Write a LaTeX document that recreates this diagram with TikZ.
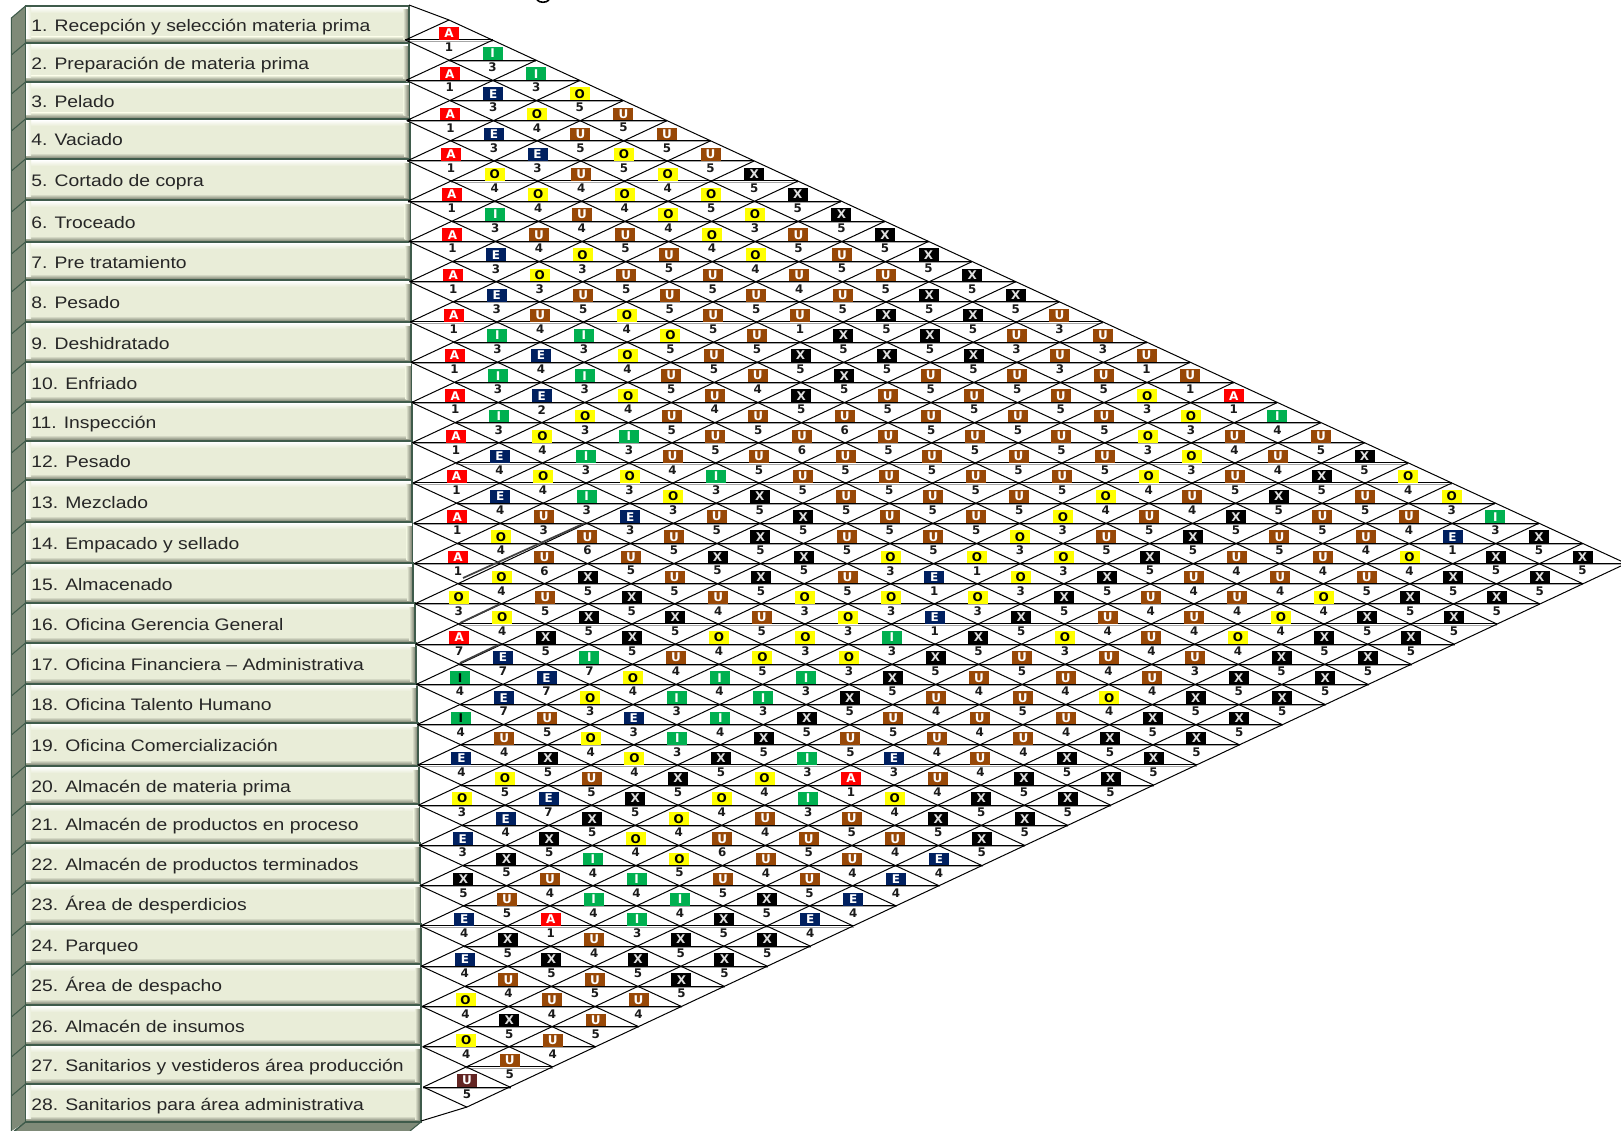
\documentclass[tikz,border=0pt]{standalone}
\usepackage{fontspec}
\setmainfont{Liberation Sans}
\newfontfamily\barfont[FakeStretch=1.16]{Liberation Sans}
\newfontfamily\cellfont{DejaVu Sans}
\definecolor{barfill}{HTML}{E9EDD8}
\definecolor{baredge}{HTML}{3F5B4B}
\definecolor{sideface}{HTML}{7F8A78}
\definecolor{barshadow}{HTML}{747969}
\definecolor{colA}{HTML}{FF0000}
\definecolor{colE}{HTML}{002060}
\definecolor{colI}{HTML}{00B050}
\definecolor{colO}{HTML}{FFFF00}
\definecolor{colU}{HTML}{984807}
\definecolor{colM}{HTML}{632523}
\tikzset{
  gridline/.style={black,line width=0.75pt},
  gridshade/.style={black!35,line width=0.7pt},
  heavyline/.style={black!75,line width=1.3pt},
  sideline/.style={baredge,line width=0.8pt},
  barlabel/.style={anchor=base west,inner sep=0pt,text=black!85,
    font=\barfont\fontsize{12.5}{14}\selectfont},
  cellbox/.style={rectangle,inner sep=0pt,minimum width=15pt,minimum height=9.6pt,
    font=\cellfont\bfseries\fontsize{9}{9}\selectfont,text=white},
  cellA/.style={fill=colA},
  cellE/.style={fill=colE},
  cellI/.style={fill=colI},
  celli/.style={fill=colI,text=black},
  cellO/.style={fill=colO,text=black},
  cellU/.style={fill=colU},
  cellu/.style={fill=colM},
  cellX/.style={fill=black,text=black!12},
  numlabel/.style={inner sep=0pt,text=black!90,
    font=\cellfont\bfseries\fontsize{8.9}{9}\selectfont},
}
\newcommand\drawcell[2]{%
  \pgfmathtruncatemacro\curm{(\curk-\curn)/2}%
  \pgfmathsetmacro\cx{449+43.6*\curn+0.69*\curm}%
  \pgfmathsetmacro\cy{40+20.135*\curk}%
  \node[cellbox,cell#1] (c-\curk-\curn) at (\cx,\cy-6.6) {\MakeUppercase{#1}};%
  \node[numlabel] (v-\curk-\curn) at (\cx,\cy+7.2) {#2};%
  \pgfmathtruncatemacro\curn{\curn+2}%
}
\def\cellloop#1#2{\ifx#1\relax\else\drawcell{#1}{#2}\expandafter\cellloop\fi}
\newcommand\cellrow[2]{\def\curk{#1}\pgfmathtruncatemacro\curn{mod(#1,2)}\cellloop#2\relax\relax}
\begin{document}
\begin{tikzpicture}[x=0.75pt,y=-0.75pt]
\useasboundingbox (0,0) rectangle (1621,1131);
\clip (0,0) rectangle (1621,1131);
% side and bottom faces of the bar stack
\fill[sideface] (25.5,6) -- (11.4,18) -- (11.4,1131) -- (25.5,1122) -- cycle;
\fill[sideface] (25.5,1122) -- (14,1131) -- (410,1131) -- (421,1122) -- cycle;
\draw[sideline] (25.5,6) -- (11.4,18) -- (11.4,1131);
\draw[sideline] (25.5,1122) -- (14,1131);
\draw[sideline] (421,1122) -- (410,1131);
% bars
\gdef\prevt{6}
\foreach \i/\b/\r/\txt in {
 1/43/409/{1. Recepción y selección materia prima},
 2/82/409/{2. Preparación de materia prima},
 3/119/409.5/{3. Pelado},
 4/159/410/{4. Vaciado},
 5/200/410/{5. Cortado de copra},
 6/242/410.5/{6. Troceado},
 7/280/411/{7. Pre tratamiento},
 8/322/411/{8. Pesado},
 9/362/411/{9. Deshidratado},
 10/402/411.5/{10. Enfriado},
 11/441/412/{11. Inspección},
 12/480/412/{12. Pesado},
 13/522/412/{13. Mezclado},
 14/563/412.5/{14. Empacado y sellado},
 15/603/413/{15. Almacenado},
 16/643/415/{16. Oficina Gerencia General},
 17/684/416/{17. Oficina Financiera – Administrativa},
 18/723/417/{18. Oficina Talento Humano},
 19/766/418/{19. Oficina Comercialización},
 20/804/419/{20. Almacén de materia prima},
 21/843/419.5/{21. Almacén de productos en proceso},
 22/883/420/{22. Almacén de productos terminados},
 23/924/420.5/{23. Área de desperdicios},
 24/964/421/{24. Parqueo},
 25/1005/421/{25. Área de despacho},
 26/1045/421/{26. Almacén de insumos},
 27/1084/421/{27. Sanitarios y vestideros área producción},
 28/1122/421/{28. Sanitarios para área administrativa}}{
  \pgfmathsetmacro\t{\prevt}
  \fill[barfill] (25.5,\t) rectangle (\r,\b);
  \shade[top color=white,bottom color=barfill] (26,\t+1) rectangle (\r-1,\t+7);
  \shade[top color=barfill,bottom color=barshadow] (26,\b-6) rectangle (\r-1,\b-0.5);
  \shade[left color=white,right color=barfill] (26,\t+1) rectangle (31,\b-4);
  \shade[left color=barfill,right color=barshadow] (\r-6,\t+4) rectangle (\r-0.5,\b-3);
  \draw[sideline] (25.5,\t) rectangle (\r,\b);
  \draw[sideline] (25.5,\b) -- (11.4,\b+12);
  \node[barlabel] (bar-\i) at (31,{(\t+\b)/2+7}) {\txt};
  \xdef\prevt{\b}
}
% cropped mark at the upper edge
\coordinate (marka) at (537,0);
\coordinate (markb) at (549,0);
\draw[black,line width=1.2pt] (marka) .. controls (540,3) and (546,3) .. (markb);
% lattice points
\foreach \m in {0,...,26}{
  \coordinate (L-\m) at (405.4+0.69*\m,40+40.27*\m);
  \coordinate (T-\m) at (449+43.6*\m,20+20.13*\m);
  \coordinate (E-\m) at (405.4+0.69*\m+43.6*27-43.6*\m,40+40.27*\m+20.135*27-20.135*\m);
}
\coordinate (stub-top) at (409,5);
\coordinate (stub-bot) at (421,1121);
\coordinate (bottom-first) at (467,1107);
\coordinate (tip) at (1626.2,563.5);
% horizontals
\foreach \k in {0,...,52}{
  \pgfmathtruncatemacro\hm{floor(\k/2)}
  \pgfmathsetmacro\hleft{mod(\k,2)==0?405.4+0.69*\hm:449+0.69*\hm}
  \pgfmathsetmacro\hright{\k<=26?449+43.6*(\k+1):449+43.6*(53-\k)+0.69*(\k-26)}
  \pgfmathsetmacro\hy{40+20.135*\k}
  \coordinate (HL-\k) at (\hleft,\hy);
  \coordinate (HR-\k) at (\hright,\hy);
  \draw[gridshade] ([yshift=-0.85pt]HL-\k) -- ([yshift=-0.85pt]HR-\k);
  \draw[gridline] (HL-\k) -- (HR-\k);
}
% diagonals
\foreach \m in {0,...,26}{
  \draw[gridline] (L-\m) -- (T-\m);
  \draw[gridline] (L-\m) -- (E-\m);
}
\draw[gridline] (stub-top) -- (T-0) -- (tip) -- (bottom-first) -- (stub-bot);
% heavier strokes
\coordinate (ha) at (463,578); \coordinate (hb) at (585,523);
\coordinate (hc) at (460,623); \coordinate (hd) at (500,604);
\coordinate (he) at (460,663); \coordinate (hf) at (500,644);
\draw[heavyline] (ha) -- (hb);
\draw[heavyline] (hc) -- (hd);
\draw[heavyline] (he) -- (hf);
% cells
\cellrow{0}{A1}
\cellrow{1}{I3}
\cellrow{2}{A1 I3}
\cellrow{3}{E3 O5}
\cellrow{4}{A1 O4 U5}
\cellrow{5}{E3 U5 U5}
\cellrow{6}{A1 E3 O5 U5}
\cellrow{7}{O4 U4 O4 X5}
\cellrow{8}{A1 O4 O4 O5 X5}
\cellrow{9}{I3 U4 O4 O3 X5}
\cellrow{10}{A1 U4 U5 O4 U5 X5}
\cellrow{11}{E3 O3 U5 O4 U5 X5}
\cellrow{12}{A1 O3 U5 U5 U4 U5 X5}
\cellrow{13}{E3 U5 U5 U5 U5 X5 X5}
\cellrow{14}{A1 U4 O4 U5 U1 X5 X5 U3}
\cellrow{15}{I3 I3 O5 U5 X5 X5 U3 U3}
\cellrow{16}{A1 E4 O4 U5 X5 X5 X5 U3 U1}
\cellrow{17}{I3 I3 U5 U4 X5 U5 U5 U5 U1}
\cellrow{18}{A1 E2 O4 U4 X5 U5 U5 U5 O3 A1}
\cellrow{19}{I3 O3 U5 U5 U6 U5 U5 U5 O3 I4}
\cellrow{20}{A1 O4 I3 U5 U6 U5 U5 U5 O3 U4 U5}
\cellrow{21}{E4 I3 U4 U5 U5 U5 U5 U5 O3 U4 X5}
\cellrow{22}{A1 O4 O3 I3 U5 U5 U5 U5 O4 U5 X5 O4}
\cellrow{23}{E4 I3 O3 X5 U5 U5 U5 O4 U4 X5 U5 O3}
\cellrow{24}{A1 U3 E3 U5 X5 U5 U5 O3 U5 X5 U5 U4 I3}
\cellrow{25}{O4 U6 U5 X5 U5 U5 O3 U5 X5 U5 U4 E1 X5}
\cellrow{26}{A1 U6 U5 X5 X5 O3 O1 O3 X5 U4 U4 O4 X5 X5}
\cellrow{27}{O4 X5 U5 X5 U5 E1 O3 X5 U4 U4 U5 X5 X5}
\cellrow{28}{O3 U5 X5 U4 O3 O3 O3 X5 U4 U4 O4 X5 X5}
\cellrow{29}{O4 X5 X5 U5 O3 E1 X5 U4 U4 O4 X5 X5}
\cellrow{30}{A7 X5 X5 O4 O3 I3 X5 O3 U4 O4 X5 X5}
\cellrow{31}{E7 I7 U4 O5 O3 X5 U5 U4 U3 X5 X5}
\cellrow{32}{i4 E7 O4 I4 I3 X5 U4 U4 U4 X5 X5}
\cellrow{33}{E7 O3 I3 I3 X5 U4 U5 O4 X5 X5}
\cellrow{34}{i4 U5 E3 I4 X5 U5 U4 U4 X5 X5}
\cellrow{35}{U4 O4 I3 X5 U5 U4 U4 X5 X5}
\cellrow{36}{E4 X5 O4 X5 I3 E3 U4 X5 X5}
\cellrow{37}{O5 U5 X5 O4 A1 U4 X5 X5}
\cellrow{38}{O3 E7 X5 O4 I3 O4 X5 X5}
\cellrow{39}{E4 X5 O4 U4 U5 X5 X5}
\cellrow{40}{E3 X5 O4 U6 U5 U4 X5}
\cellrow{41}{X5 I4 O5 U4 U4 E4}
\cellrow{42}{X5 U4 I4 U5 U5 E4}
\cellrow{43}{U5 I4 I4 X5 E4}
\cellrow{44}{E4 A1 I3 X5 E4}
\cellrow{45}{X5 U4 X5 X5}
\cellrow{46}{E4 X5 X5 X5}
\cellrow{47}{U4 U5 X5}
\cellrow{48}{O4 U4 U4}
\cellrow{49}{X5 U5}
\cellrow{50}{O4 U4}
\cellrow{51}{U5}
\cellrow{52}{u5}
\end{tikzpicture}
\end{document}
